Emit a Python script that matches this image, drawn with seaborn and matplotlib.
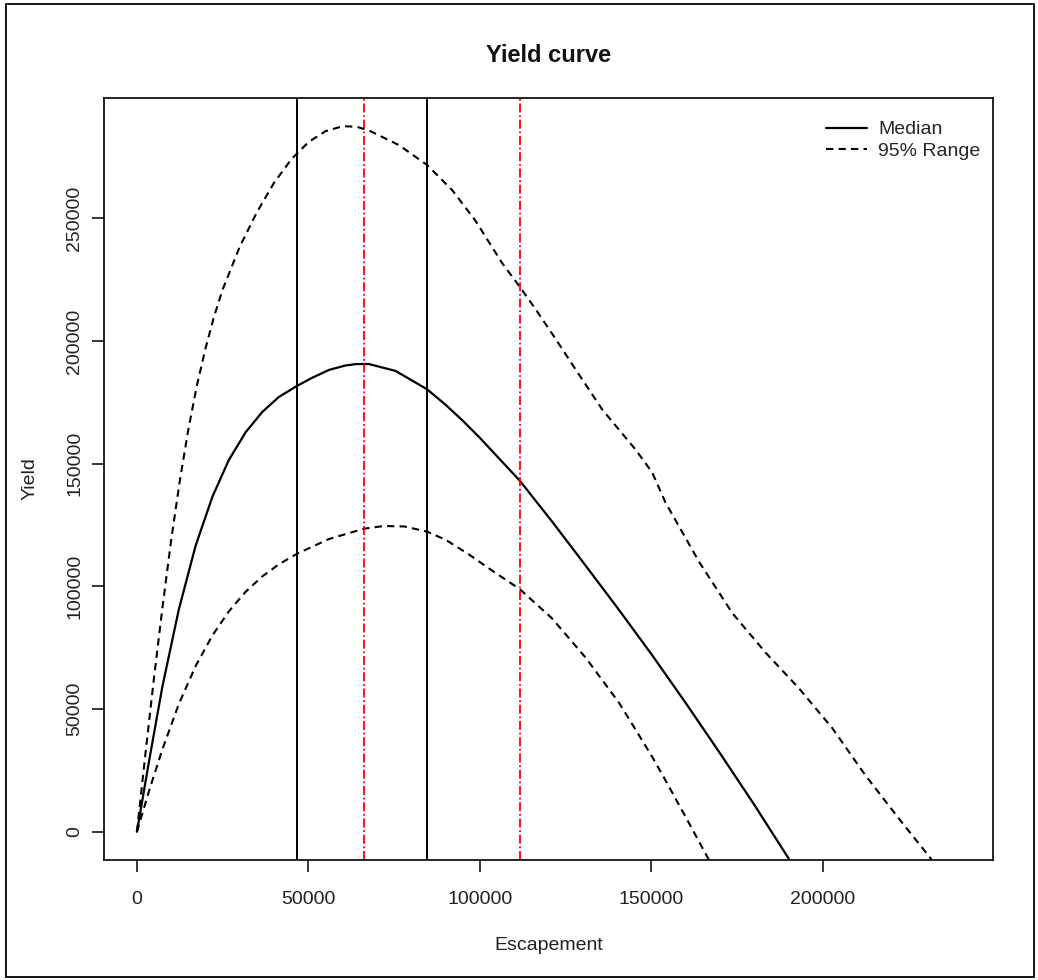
import numpy as np
import pandas as pd
import matplotlib
matplotlib.use("Agg")
import matplotlib.pyplot as plt
from matplotlib.lines import Line2D
from matplotlib.patches import Rectangle
import seaborn as sns

# curves (escapement, yield)
median_x = [0, 3500, 7400, 12200, 17100, 22000, 26800, 31700, 36500, 41400,
            46700, 51100, 56000, 60800, 64000, 67600, 75400, 84600, 90000,
            95000, 100000, 105000, 111600, 121000, 130800, 140500, 150200,
            160000, 170000, 180000, 190300]
median_y = [0, 28500, 59000, 90500, 116500, 136500, 151500, 162800, 171000,
            177200, 181700, 185000, 188200, 190000, 190600, 190600, 187800,
            180300, 174000, 167500, 160500, 153000, 143100, 126500, 108500,
            90500, 72000, 52500, 32000, 11000, -11500]

upper_x = [0, 2500, 5000, 7500, 10000, 12500, 15000, 17500, 20000, 22500,
           25000, 30000, 35000, 40000, 45000, 50000, 55000, 60000, 64000,
           67600, 76400, 84600, 91900, 98700, 106500, 111600, 116200, 122000,
           127900, 135700, 145400, 150200, 154100, 163900, 173600, 183300,
           193000, 202700, 212400, 222200, 231800]
upper_y = [0, 32000, 63000, 92000, 119000, 143000, 164000, 182000, 197000,
           210000, 221000, 238500, 252500, 264500, 274000, 281000, 285500,
           287500, 287300, 285800, 279800, 271700, 261500, 249000, 231700,
           222100, 213000, 201000, 188400, 172000, 155700, 146500, 134200,
           110000, 89100, 73000, 58500, 42300, 23000, 5300, -11500]

lower_x = [0, 3500, 7400, 12200, 17100, 22000, 26800, 31700, 36500, 41400,
           46700, 56000, 66200, 72000, 78000, 84600, 90000, 96800, 104000,
           111600, 121000, 130800, 140500, 145000, 150200, 154100, 160900,
           166800]
lower_y = [0, 16500, 33500, 52000, 67500, 80000, 89800, 97800, 104000,
           109000, 113300, 119300, 123500, 124600, 124400, 122300, 119000,
           113000, 106000, 98900, 87000, 71000, 52700, 42500, 30600, 21000,
           3700, -11500]

black_vlines = [46700, 84500]
red_vlines = [66200, 111600]

x_ticks = [0, 50000, 100000, 150000, 200000]
y_ticks = [0, 50000, 100000, 150000, 200000, 250000]

sns.set_theme(style="white")
plt.rcParams['font.family'] = ['Liberation Sans', 'DejaVu Sans']

fig = plt.figure(figsize=(10.38, 9.8), dpi=100)
ax = fig.add_axes([104 / 1038, 1 - 860 / 980, 889 / 1038, 762 / 980])

dash = (0, (3.5, 2.5))
sns.lineplot(x=median_x, y=median_y, ax=ax, color='black', lw=1.6,
             sort=False, estimator=None)
sns.lineplot(x=upper_x, y=upper_y, ax=ax, color='black', lw=1.5,
             linestyle=dash, sort=False, estimator=None)
sns.lineplot(x=lower_x, y=lower_y, ax=ax, color='black', lw=1.5,
             linestyle=dash, sort=False, estimator=None)

for v in black_vlines:
    ax.axvline(v, color='black', lw=1.4)
for v in red_vlines:
    ax.axvline(v, color='#ff0000', lw=1.3, linestyle=(0, (5, 1.5, 1, 1.5)))

# R style: 4% padding around data range
ax.set_xlim(-9600, 249600)
ax.set_ylim(-11500, 299000)
ax.set_xticks(x_ticks)
ax.set_yticks(y_ticks)
ax.set_xticklabels([str(t) for t in x_ticks])
ax.set_yticklabels([str(t) for t in y_ticks])

for s in ax.spines.values():
    s.set_color('black')
    s.set_linewidth(1.2)

ax.tick_params(axis='both', which='major', direction='out', length=8.5,
               width=1.1, color='black', labelsize=14, labelcolor='#222222',
               bottom=True, left=True)
ax.tick_params(axis='x', pad=13.5)
ax.tick_params(axis='y', pad=6.5, labelrotation=90)
for lab in ax.get_yticklabels():
    lab.set_va('center')

ax.set_xlabel('Escapement', fontsize=14, color='#222222')
ax.set_ylabel('Yield', fontsize=14, color='#222222')
ax.xaxis.set_label_coords(0.5, (860 - 945) / 762)
ax.xaxis.label.set_va('center')
ax.yaxis.set_label_coords((30 - 104) / 889, 0.5)
ax.yaxis.label.set_va('center')

fig.text(548.5 / 1038, 1 - 56 / 980, 'Yield curve', ha='center', va='center',
         fontsize=17, fontweight='bold', color='#111111')

handles = [Line2D([], [], color='black', lw=1.6),
           Line2D([], [], color='black', lw=1.5, linestyle=dash)]
ax.legend(handles, ['Median', '95% Range'], loc='upper right',
          bbox_to_anchor=(0.986, 0.970), frameon=False, fontsize=14,
          handlelength=2.1, handletextpad=0.6, labelspacing=0.2,
          borderpad=0, borderaxespad=0)

fig.patches.append(Rectangle((6 / 1038, 1 - 977 / 980), 1028 / 1038, 973 / 980,
                             transform=fig.transFigure, fill=False,
                             edgecolor='black', lw=1.3))

fig.savefig('out.png', dpi=100)
